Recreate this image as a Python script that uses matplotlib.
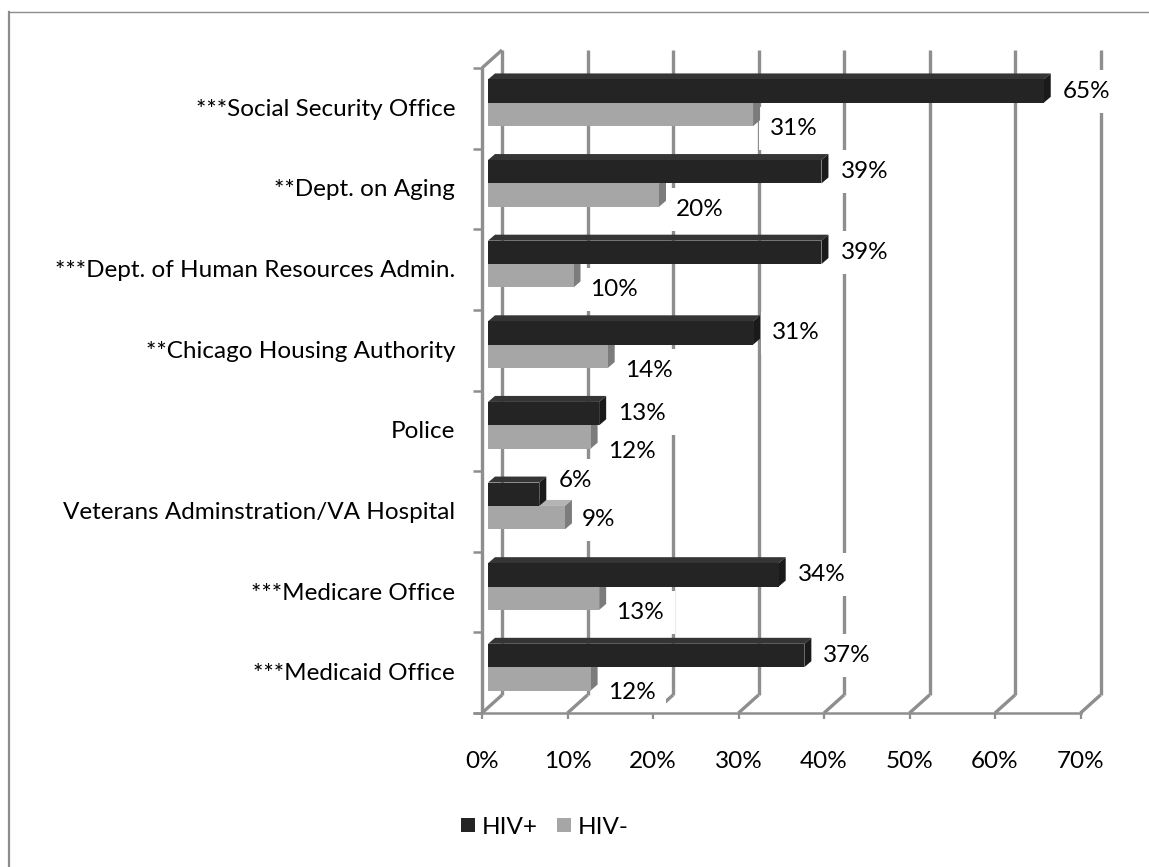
import matplotlib
matplotlib.use('Agg')
import matplotlib.pyplot as plt
from matplotlib.patches import Polygon, Patch
from matplotlib.lines import Line2D
from matplotlib.transforms import offset_copy, IdentityTransform

# data (top to bottom)
categories = ['***Social Security Office', '**Dept. on Aging',
              '***Dept. of Human Resources Admin.', '**Chicago Housing Authority',
              'Police', 'Veterans Adminstration/VA Hospital',
              '***Medicare Office', '***Medicaid Office']
hiv_pos = [65, 39, 39, 31, 13, 6, 34, 37]
hiv_neg = [31, 20, 10, 14, 12, 9, 13, 12]
x_ticks = [0, 10, 20, 30, 40, 50, 60, 70]
series_names = ['HIV+', 'HIV-']

plt.rcParams['font.family'] = ['Lato', 'DejaVu Sans']
FS = 17.5

W, H = 1149, 867
fig = plt.figure(figsize=(W / 100, H / 100), dpi=100)
# axes = the plane the bars sit in; front wall and back wall are pixel offsets of it
ax = fig.add_axes([488 / W, 1 - 707.5 / H, 598.5 / W, 645 / H])
ax.set_xlim(0, 70)
ax.set_ylim(7.5, -0.5)
ax.axis('off')

front = offset_copy(ax.transData, fig=fig, x=-6, y=-5.5, units='dots')
back = offset_copy(ax.transData, fig=fig, x=14, y=12.5, units='dots')
grid_c = '#8e8e8e'
grid_lw = 2.4


def seg(p, q, **kw):
    ax.add_line(Line2D([p[0], q[0]], [p[1], q[1]], transform=IdentityTransform(),
                       clip_on=False, solid_capstyle='butt', **kw))


# back wall gridlines + floor diagonals
for t in x_ticks:
    ax.plot([t, t], [7.5, -0.5], transform=back, color=grid_c, lw=grid_lw,
            clip_on=False, zorder=1, solid_capstyle='butt')
    seg(front.transform((t, 7.5)), back.transform((t, 7.5)),
        color=grid_c, lw=grid_lw, zorder=1)
# left wall top
seg(front.transform((0, -0.5)), back.transform((0, -0.5)),
    color=grid_c, lw=grid_lw, zorder=1)

# front axes
ax.plot([0, 0], [7.5, -0.5], transform=front, color=grid_c, lw=grid_lw,
        clip_on=False, zorder=2.5, solid_capstyle='butt')
left_tick = offset_copy(front, fig=fig, x=-9, y=0, units='dots')
ax.plot([0, 70], [7.5, 7.5], transform=front, color=grid_c, lw=1.8,
        clip_on=False, zorder=2.5)
for k in range(9):
    yk = k - 0.5
    seg(front.transform((0, yk)), left_tick.transform((0, yk)), color=grid_c, lw=1.8)
down_tick = offset_copy(front, fig=fig, x=0, y=-6, units='dots')
for t in x_ticks:
    seg(front.transform((t, 7.5)), down_tick.transform((t, 7.5)), color=grid_c, lw=1.6)
seg(left_tick.transform((0, 7.5)), front.transform((0, 7.5)), color=grid_c, lw=1.8)

# 3d bars
bar_h = 0.29
dep = (7, 6)


def bar3d(y, v, c_front, c_top, c_side, z):
    ax.barh(y, v, height=bar_h, align='edge', color=c_front, zorder=z)
    (x0, y0), (x1, y1) = ax.transData.transform([(0, y + bar_h), (v, y)])
    dx, dy = dep
    top = [(x0, y1), (x1, y1), (x1 + dx, y1 + dy), (x0 + dx, y1 + dy)]
    side = [(x1, y0), (x1 + dx, y0 + dy), (x1 + dx, y1 + dy), (x1, y1)]
    ax.add_patch(Polygon(top, closed=True, fc=c_top, ec='none',
                         transform=IdentityTransform(), clip_on=False, zorder=z - 0.1))
    ax.add_patch(Polygon(side, closed=True, fc=c_side, ec='none',
                         transform=IdentityTransform(), clip_on=False, zorder=z - 0.1))


# label nudges in pixels (Excel moved the Veterans labels to avoid overlap)
pos_dy = [0, 0, 0, 0, 0, 14, 0, 0]
neg_dy = [-14, -14, -14, -14, -14, -2, -14, -14]

lab_box = dict(boxstyle='square,pad=0.45', fc='white', ec='none')
for i, (p, n) in enumerate(zip(hiv_pos, hiv_neg)):
    bar3d(i - bar_h, p, '#242424', '#353535', '#1a1a1a', 5)
    bar3d(i, n, '#a6a6a6', '#b4b4b4', '#7c7c7c', 3)
    ax.annotate(f'{p}%', xy=(p, i - bar_h / 2), xytext=(19, pos_dy[i]),
                textcoords='offset pixels', ha='left', va='center',
                fontsize=FS, bbox=lab_box, zorder=2, annotation_clip=False)
    ax.annotate(f'{n}%', xy=(n, i + bar_h / 2), xytext=(17, neg_dy[i]),
                textcoords='offset pixels', ha='left', va='center',
                fontsize=FS, bbox=lab_box, zorder=2, annotation_clip=False)

# category labels
cat_tr = offset_copy(front, fig=fig, x=-27, y=-1, units='dots')
for i, c in enumerate(categories):
    ax.text(0, i, c, transform=cat_tr, ha='right', va='center', fontsize=FS)

# x tick labels
xt_tr = offset_copy(front, fig=fig, x=0, y=-48, units='dots')
for t in x_ticks:
    ax.text(t, 7.5, f'{t}%', transform=xt_tr, ha='center', va='center', fontsize=FS)

handles = [Patch(fc='#242424'), Patch(fc='#a6a6a6')]
fig.legend(handles, series_names, loc='center', bbox_to_anchor=(545 / W, 1 - 827 / H),
           ncol=2, frameon=False, fontsize=FS, handlelength=0.55, handleheight=0.55,
           handletextpad=0.3, columnspacing=0.8)

# chart area border (only top/left visible in the crop)
fig.add_artist(Line2D([9 / W, 1], [1 - 12 / H, 1 - 12 / H], transform=fig.transFigure,
                      color='#8c8c8c', lw=1))
fig.add_artist(Line2D([9 / W, 9 / W], [0, 1 - 12 / H], transform=fig.transFigure,
                      color='#8c8c8c', lw=1.6))

fig.savefig('out.png', dpi=100)
